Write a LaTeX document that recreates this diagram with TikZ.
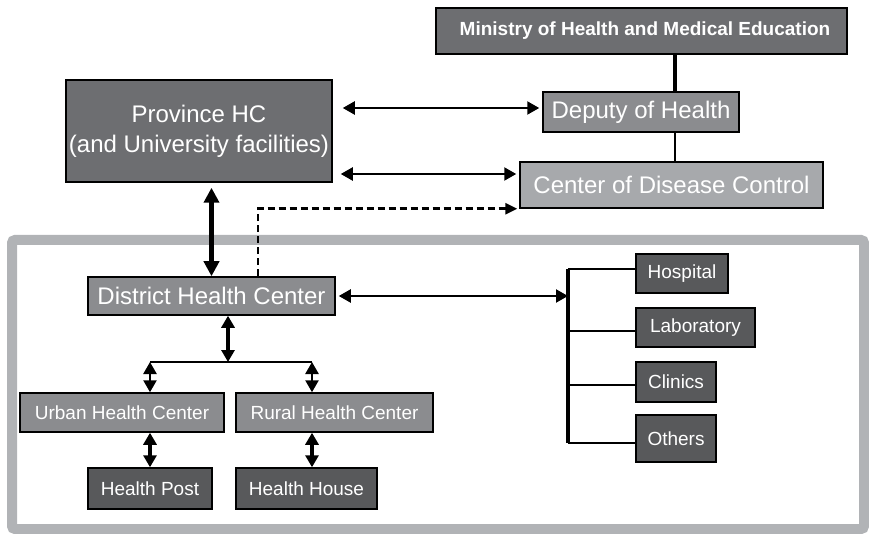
\documentclass[tikz,border=0pt]{standalone}
\usepackage{fontspec}
\setmainfont{Liberation Sans}
\usetikzlibrary{arrows.meta}
\definecolor{boxdark}{HTML}{6D6E71}
\definecolor{boxmid}{HTML}{8B8C8F}
\definecolor{boxlight}{HTML}{A7A9AC}
\definecolor{boxdarker}{HTML}{58595B}
\definecolor{framegray}{HTML}{B1B3B6}
\tikzset{
    box/.style={draw=black, line width=1.5pt, text=white, inner sep=0pt, font=\fontsize{24}{30}\selectfont},
    smallbox/.style={box, font=\fontsize{19}{22}\selectfont},
    twoway/.style={{Triangle[length=12pt,width=13pt]}-{Triangle[length=12pt,width=13pt]}, line width=2.5pt},
}

\begin{document}
\begin{tikzpicture}[x=1pt, y=-1pt]
    \useasboundingbox (0,0) rectangle (869,534);
    \draw [line width=10, color=framegray, rounded corners=3] (12,240) rectangle (864,529);

    \node [box, fill=boxdark, minimum width=411, minimum height=46, font=\bfseries\fontsize{19}{22}\selectfont] (ministry) at (641.5,31) {\hspace{7pt}Ministry of Health and Medical Education};
    \node [box, fill=boxmid, minimum width=196, minimum height=40] (deputy) at (641,112) {Deputy of Health};
    \node [box, fill=boxlight, minimum width=303, minimum height=46] (cdc) at (671.5,185) {Center of Disease Control};
    \node [box, fill=boxdark, align=center, minimum width=266, minimum height=102] (province) at (199,131) {Province HC\\(and University facilities)};
    \node [box, fill=boxmid, minimum width=247, minimum height=38] (dhc) at (211.5,296) {District Health Center};

    \node [smallbox, fill=boxmid, minimum width=204, minimum height=39] (urban) at (122,412.5) {Urban Health Center};
    \node [smallbox, fill=boxmid, minimum width=197, minimum height=39] (rural) at (334.5,412.5) {Rural Health Center};
    \node [smallbox, fill=boxdarker, minimum width=124, minimum height=41] (post) at (150,488.5) {Health Post};
    \node [smallbox, fill=boxdarker, minimum width=141, minimum height=41] (house) at (306.5,488.5) {Health House};

    \node [smallbox, fill=boxdarker, minimum width=92, minimum height=39] (hosp) at (682,273.5) {Hospital};
    \node [smallbox, fill=boxdarker, minimum width=119, minimum height=39] (lab) at (695.5,327.5) {Laboratory};
    \node [smallbox, fill=boxdarker, minimum width=80, minimum height=40] (clin) at (676,382) {Clinics};
    \node [smallbox, fill=boxdarker, minimum width=80, minimum height=47] (oth) at (676,438.5) {Others};

    \coordinate (spine) at (675,0);
    \coordinate (bar) at (568,0);
    \coordinate (split) at (228,362);
    \coordinate (lsplit) at (150,362);
    \coordinate (rsplit) at (312,362);

    \draw [line width=4] (spine |- ministry.south) -- (spine |- deputy.north);
    \draw [line width=1.5] (spine |- deputy.south) -- (spine |- cdc.north);
    \draw [twoway, line width=2.2] ([xshift=10,yshift=4]province.east |- deputy.west) -- ([xshift=-3,yshift=4]deputy.west);
    \draw [twoway, line width=2.2] ([xshift=8,yshift=11]province.east |- cdc.west) -- ([xshift=-3,yshift=11]cdc.west);
    \draw [line width=2.8, dash pattern=on 7pt off 4pt, -{Triangle[length=12pt,width=11pt]}] ([xshift=46.5]dhc.north) |- ([xshift=-2]cdc.south west);
    \draw [line width=4.5, {Triangle[length=15pt,width=15pt]}-{Triangle[length=15pt,width=15pt]}] ([yshift=-5]dhc.north |- province.south) -- (dhc.north);

    \draw [twoway, line width=2.2] ([xshift=3]dhc.east) -- (bar |- dhc.east);
    \draw [line width=3.5] ([yshift=4.5]bar |- hosp.west) -- ([yshift=-4.5]bar |- oth.west);
    \foreach \n/\s in {hosp/4.5, lab/-3.5, clin/-3, oth/-4.5}
        \draw [line width=1.5] ([yshift=\s]bar |- \n.west) -- ([yshift=\s]\n.west);

    \draw [twoway, line width=3.2] (dhc.south -| split) -- (split);
    \draw [line width=2] (lsplit) -- (rsplit);
    \draw [twoway] (lsplit) -- (lsplit |- urban.north);
    \draw [twoway] (rsplit) -- (rsplit |- rural.north);
    \draw [twoway, line width=3.2] (lsplit |- urban.south) -- (lsplit |- post.north);
    \draw [twoway, line width=3.2] (rsplit |- rural.south) -- (rsplit |- house.north);
\end{tikzpicture}
\end{document}
